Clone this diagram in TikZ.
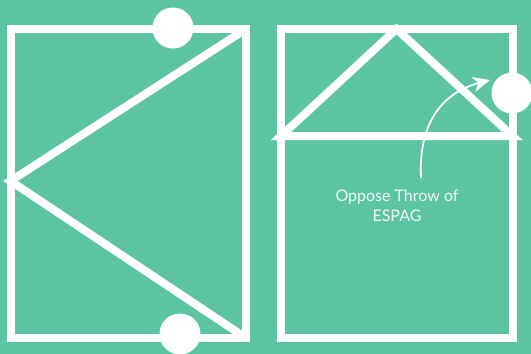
\documentclass[tikz,border=0pt]{standalone}
\usepackage{fontspec}
\setmainfont{Lato}
\usetikzlibrary{arrows.meta}
\definecolor{bg}{HTML}{5CC5A0}
\tikzset{
  frame/.style={draw=white, line width=8pt, line join=miter},
  knob/.style={circle, fill=white, draw=none, minimum size=41pt, inner sep=0pt},
  thin arrow/.style={draw=white, line width=1.8pt, -{Stealth[length=17pt, width=15pt, inset=5pt]}},
  label/.style={text=white!92!bg, font=\fontsize{16}{20}\selectfont, align=center, inner sep=0pt}
}
\begin{document}
\begin{tikzpicture}[x=1pt, y=-1pt]
  \useasboundingbox[fill=bg] (0,0) rectangle (531,354);
  % left window
  \coordinate (L1) at (10.5,29);
  \coordinate (L2) at (246,29);
  \coordinate (L3) at (246,338);
  \coordinate (L4) at (10.5,338);
  \coordinate (LV) at (10.5,181);
  \draw[frame] (L1) -- (L2) -- (L3) -- (L4) -- cycle;
  \draw[frame] (L2) -- (LV) -- (L3);
  \node[knob] (ct) at (173,28) {};
  \node[knob] (cb) at (180,334) {};
  % right window
  \coordinate (R1) at (281,29);
  \coordinate (R2) at (512.5,29);
  \coordinate (R3) at (512.5,338);
  \coordinate (R4) at (281,338);
  \coordinate (RA) at (396.5,29);
  \coordinate (RBL) at (281,136);
  \coordinate (RBR) at (512.5,136);
  \draw[frame] (R1) -- (R2) -- (R3) -- (R4) -- cycle;
  \draw[frame] (RBL) -- (RA) -- (RBR) -- cycle;
  \node[knob] (cr) at (512,93) {};
  % annotation
  \node[label, anchor=base] (txt) at (397,221) {Oppose Throw of\\ESPAG};
  \coordinate (as) at (421,178);
  \coordinate (ae) at (490,80);
  \draw[thin arrow] (as) .. controls (418,120) and (445,92) .. (ae);
\end{tikzpicture}
\end{document}
